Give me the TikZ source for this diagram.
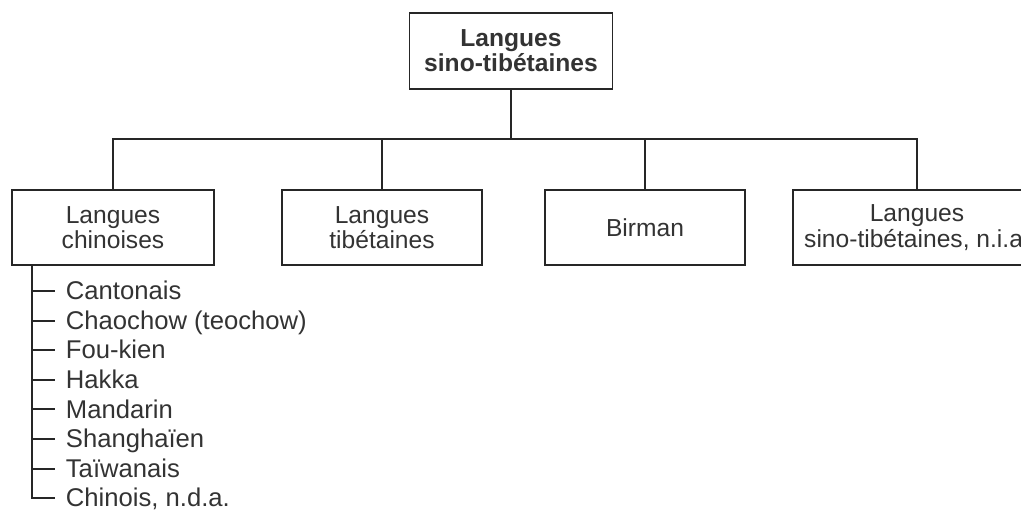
\documentclass[tikz,border=0pt]{standalone}
\usepackage{fontspec}
\setmainfont{Liberation Sans}
\usepackage{tikz}
\usetikzlibrary{positioning}
\tikzset{
  famille/.style={draw=black!85, line width=1.1pt, align=center, minimum width=4cm, minimum height=1.5cm,
    font=\fontsize{14}{14.4}\selectfont, text=black!80},
  langue/.style={anchor=west, inner xsep=6pt, inner ysep=0pt, text height=10pt, text depth=0pt,
    font=\fontsize{14.6}{15}\selectfont, text=black!80},
  lien/.style={line width=1.1pt, draw=black!85}
}

\begin{document}
\begin{tikzpicture}[x=0.02cm,y=-0.02cm]
\useasboundingbox (0,0) rectangle (1021,511);
% familles
\node[famille, minimum width=4.06cm, minimum height=1.52cm, font=\bfseries\fontsize{14}{14.4}\selectfont] (racine) at (511,51) {Langues\\sino-tibétaines};
\node[famille, minimum width=4.04cm] (chinoises) at (113,227.5) {Langues\\chinoises};
\node[famille] (tibetaines) at (382,227.5) {Langues\\tibétaines};
\node[famille] (birman) at (645,227.5) {Birman};
\node[famille, minimum width=4.96cm] (nia) at (917,227.5) {Langues\\sino-tibétaines, n.i.a.};
\coordinate (embranchement) at (511,139);
\draw[lien] (racine.south) -- (embranchement);
\foreach \f in {chinoises,tibetaines,birman,nia}
  \draw[lien] (embranchement) -| (\f.north);
% langues chinoises
\coordinate (tronc) at (32,265);
\foreach \nom [count=\i from 0] in {Cantonais, Chaochow (teochow), Fou-kien, Hakka, Mandarin, Shanghaïen, Taïwanais, {Chinois, n.d.a.}}
  \node[langue] (l\i) at (55,291+29.6*\i) {\nom};
\draw[lien] (tronc) |- (l7.west);
\foreach \i in {0,...,6}
  \draw[lien] (tronc |- l\i.west) -- (l\i.west);
\end{tikzpicture}
\end{document}
